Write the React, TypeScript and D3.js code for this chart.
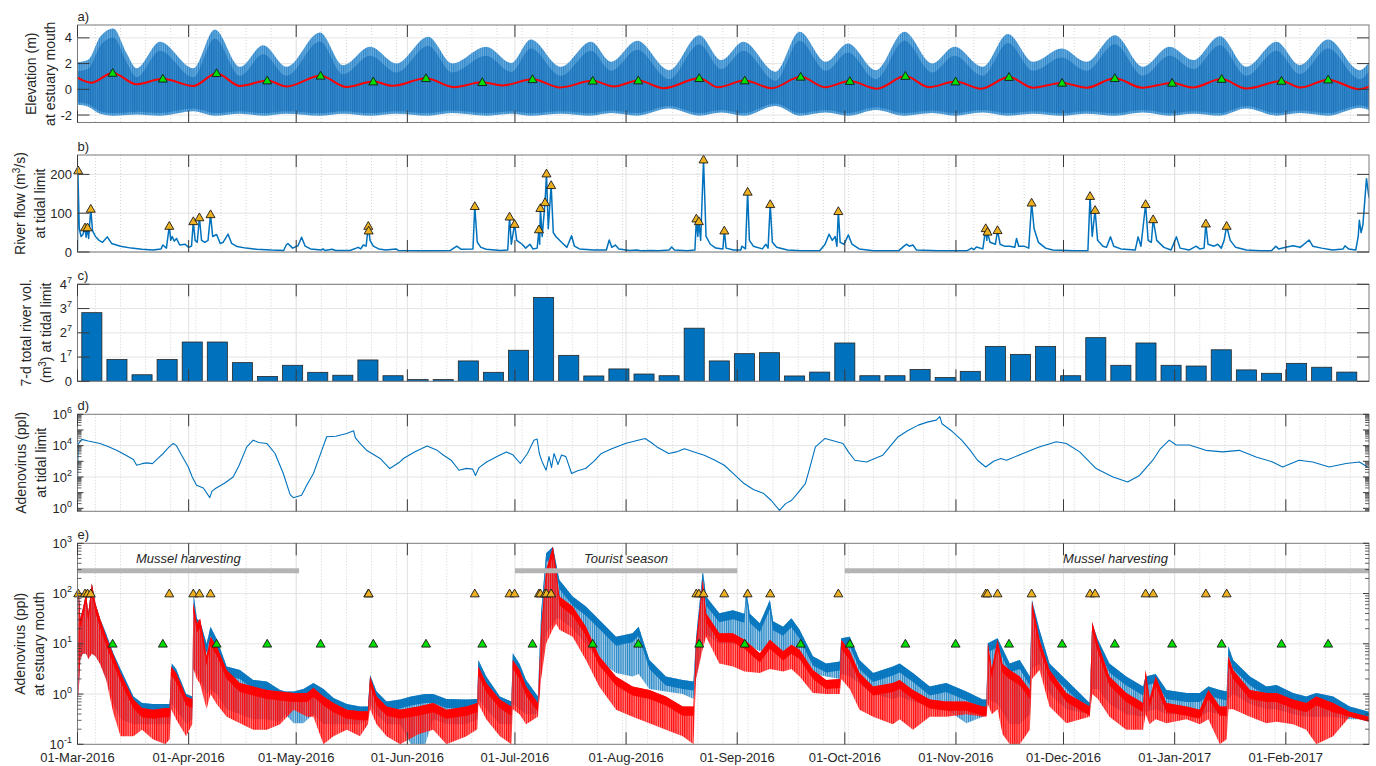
import React from "react";
import * as d3 from "d3";

// ---------------- DATA ----------------
const monthTickLabels = [
  "01-Mar-2016", "01-Apr-2016", "01-May-2016", "01-Jun-2016", "01-Jul-2016", "01-Aug-2016",
  "01-Sep-2016", "01-Oct-2016", "01-Nov-2016", "01-Dec-2016", "01-Jan-2017", "01-Feb-2017",
];

// a) tidal envelope at estuary mouth: [day, high water envelope, low water envelope] (m)
const tideEnvelope: [number, number, number][] = [
  [0, 2.1, -1.2], [3, 2.3, -1.35], [6.3, 4.08, -1.9], [10, 4.73, -2.05], [13.7, 2.8, -2.0], [16.5, 1.63, -1.95],
  [23, 3.69, -2.05], [32.3, 1.63, -1.7], [38.3, 4.65, -2.05], [45.3, 1.75, -1.9], [51.8, 3.43, -2.05], [58.3, 1.75, -1.9],
  [67.6, 4.42, -2.05], [74.1, 1.87, -1.9], [81.6, 3.3, -2.05], [89, 2.0, -1.9], [97.8, 4.08, -2.05], [104.5, 2.01, -1.85],
  [114, 3.31, -2.05], [121, 2.05, -1.9], [126.4, 3.87, -2.05], [134.8, 1.75, -1.9], [143.2, 3.69, -2.05], [148.8, 2.14, -1.85],
  [156.1, 3.77, -2.05], [165, 1.49, -1.5], [173.4, 4.21, -2.05], [179.6, 2.27, -1.8], [185.7, 3.69, -2.05], [194.7, 1.36, -1.3],
  [201.4, 4.47, -2.05], [208.7, 2.14, -1.8], [214.9, 3.56, -2.05], [222.7, 1.49, -1.6], [230.6, 4.47, -2.05], [238.4, 2.01, -1.85],
  [244.6, 3.3, -2.05], [252.4, 1.75, -1.8], [259.5, 4.3, -2.05], [266.5, 2.14, -1.9], [274.5, 3.18, -2.05], [281.4, 2.14, -1.9],
  [289.3, 4.21, -2.05], [297.2, 1.75, -1.8], [304.6, 3.3, -2.05], [311.2, 2.27, -1.9], [318.6, 4.13, -2.05], [326, 1.75, -1.5],
  [334.4, 3.69, -2.05], [340.9, 1.88, -1.85], [348.8, 3.87, -2.05], [357.6, 1.49, -1.45], [360.2, 2.1, -1.6],
];

// a) tidally averaged level (red line): [day, m]
const meanLevel: [number, number][] = [
  [0, 0.9], [3.8, 0.51], [9.8, 1.27], [16.5, 0.39], [23.8, 0.82], [32.3, 0.26], [38.8, 1.25], [45.3, 0.26],
  [52.9, 0.68], [58.3, 0.22], [67.8, 1.05], [75, 0.18], [82.5, 0.6], [88, 0.27], [97.2, 0.86], [105, 0.17],
  [112.9, 0.55], [118.5, 0.3], [126.9, 0.78], [134.6, 0.15], [143.7, 0.66], [149.6, 0.22], [156.4, 0.68], [163.5, 0.09],
  [173.4, 0.86], [178.6, 0.17], [186.1, 0.68], [193.6, 0.09], [201.7, 0.97], [208.5, 0.17], [215.4, 0.64], [223, 0.05],
  [230.9, 1.03], [237.5, 0.17], [244.9, 0.6], [252, 0.05], [259.8, 0.95], [266.5, 0.12], [274.6, 0.5], [281.4, 0.12],
  [289.3, 0.86], [297, 0.12], [305.3, 0.5], [311, 0.14], [319.1, 0.8], [326, 0.06], [335.8, 0.65], [341, 0.14],
  [348.8, 0.75], [357.6, 0.0], [360.2, 0.2],
];

// spring tide markers (green triangles): [day, elevation]
const springTides: [number, number][] = [
  [9.8, 1.27], [23.8, 0.82], [38.8, 1.25], [52.9, 0.68], [67.8, 1.05], [82.5, 0.6], [97.2, 0.86], [112.9, 0.55],
  [126.9, 0.78], [143.7, 0.66], [156.4, 0.68], [173.4, 0.86], [186.1, 0.68], [201.7, 0.97], [215.4, 0.64], [230.9, 1.03],
  [244.9, 0.6], [259.8, 0.95], [274.6, 0.5], [289.3, 0.86], [305.3, 0.5], [319.1, 0.8], [335.8, 0.65], [348.8, 0.75],
];

// b) river flow at tidal limit: [day, m3/s]
const riverFlow: [number, number][] = [
  [0, 5], [0.1, 210], [0.5, 60], [1.0, 40], [1.5, 45], [2.1, 63], [2.4, 38], [2.8, 63], [3.1, 35], [3.7, 111], [4.2, 55],
  [5, 40], [6, 30], [7, 25], [8.3, 39], [9.5, 22], [12, 15], [15, 10], [18, 7], [21, 5], [23.3, 8], [23.8, 18], [24.8, 10],
  [25.6, 67], [26.0, 30], [26.4, 40], [27, 28], [27.6, 35], [28.5, 18], [30, 20], [31, 12], [31.8, 15], [32.3, 79], [32.8, 30],
  [33.4, 25], [34, 89], [34.6, 30], [35.5, 25], [36.4, 30], [37.1, 97], [37.7, 40], [38.8, 45], [39.8, 22], [40.6, 25], [42, 46],
  [43, 22], [44.5, 14], [47, 10], [50, 7], [54, 5], [57.5, 4], [58.2, 18], [58.7, 22], [59.2, 17], [60, 10], [61.5, 16],
  [62.5, 38], [63.5, 15], [65, 8], [68, 5], [68.5, 8], [69, 4], [71, 7], [72, 4], [76, 4], [78.3, 12], [79, 8], [79.7, 18],
  [80.5, 15], [81.1, 67], [81.6, 30], [82.5, 15], [84, 8], [86, 5], [88.8, 8], [89.5, 4], [95, 3], [100, 3], [104, 4],
  [105.8, 15], [107, 7], [110.3, 8], [110.8, 118], [111.5, 25], [112.5, 12], [114, 7], [118, 4], [120, 5], [120.5, 91],
  [121, 20], [121.9, 72], [122.5, 30], [124, 20], [125, 10], [126.2, 20], [127, 8], [128.2, 10], [128.7, 58], [128.9, 20],
  [129.1, 113], [129.6, 40], [130.4, 128], [130.8, 202], [131.3, 60], [132.1, 172], [132.7, 50], [133.4, 40], [135, 25],
  [136.5, 12], [137.8, 42], [138.6, 15], [140, 8], [144, 5], [147.5, 5], [148.3, 31], [149, 12], [150, 18], [151, 8],
  [154, 4], [156, 5], [157, 3], [160, 4], [162, 3], [165, 5], [165.7, 13], [166.5, 5], [170, 3], [172.2, 5], [172.6, 86],
  [173, 40], [173.3, 79], [173.8, 30], [174.6, 238], [175.3, 40], [176.5, 20], [178, 10], [180, 8], [180.4, 55], [180.9, 10],
  [183, 5], [185, 5], [185.3, 15], [186.3, 8], [186.9, 155], [187.4, 30], [188.5, 15], [191, 8], [192, 20], [192.6, 10],
  [193.2, 123], [193.8, 25], [195, 12], [198, 5], [202, 3], [207, 3], [208.5, 20], [209.6, 46], [210.5, 30], [211.3, 40],
  [211.8, 15], [212.2, 105], [212.7, 25], [213.8, 20], [215, 44], [216, 20], [218, 8], [222, 3], [229, 3], [230.5, 15],
  [231.2, 20], [232, 15], [233, 18], [234, 5], [240, 3], [248, 3], [249.4, 10], [250, 6], [250.7, 13], [252.5, 8],
  [253.3, 61], [253.6, 30], [253.8, 52], [254.5, 25], [256, 20], [256.6, 56], [257.3, 20], [258.5, 15], [260, 15],
  [261.4, 12], [261.9, 35], [262.5, 15], [264, 15], [265.3, 10], [266.1, 127], [266.8, 60], [268, 25], [270, 10], [272, 5],
  [278, 3], [281.8, 3], [282.4, 144], [283, 40], [283.8, 108], [284.5, 30], [286, 15], [287, 12], [288.1, 39], [289, 15],
  [291, 8], [295, 5], [295.8, 39], [296.6, 15], [297.9, 123], [298.6, 30], [299.5, 25], [300, 84], [301, 30], [303, 12],
  [305, 5], [306.5, 39], [307.5, 10], [310, 5], [312, 15], [313, 8], [314.2, 10], [314.7, 73], [315.3, 20], [317, 15],
  [318, 20], [319, 10], [319.8, 30], [320.5, 67], [321.5, 30], [323, 12], [326, 5], [330, 3], [333, 3], [334.2, 15],
  [335, 8], [337, 12], [339, 16], [341, 12], [343.5, 31], [344.5, 15], [347, 10], [350, 5], [353, 8], [353.5, 16],
  [354.5, 8], [356.5, 5], [357.2, 40], [357.5, 82], [358, 50], [358.5, 70], [359.5, 189], [360.2, 140],
];

// flow events (orange triangles): [day, peak flow m3/s]
const flowEvents: [number, number][] = [
  [0.2, 210], [2.1, 63], [2.8, 63], [3.7, 111], [25.6, 67], [32.3, 79], [34.0, 89], [37.1, 97], [81.1, 67], [81.2, 55],
  [110.8, 118], [120.5, 91], [121.9, 72], [128.7, 58], [129.1, 113], [130.4, 128], [130.8, 202], [132.1, 172],
  [172.6, 86], [173.3, 79], [174.6, 238], [180.4, 55], [186.9, 155], [193.2, 123], [212.2, 105], [253.3, 61], [253.8, 52],
  [256.6, 56], [266.1, 127], [282.4, 144], [283.8, 108], [297.9, 123], [300.0, 84], [314.7, 73], [320.5, 67],
];

// c) 7-day total river volume (units of 10^7 m3), one value per week from 01-Mar-2016
const weeklyVolume = [
  2.83, 0.9, 0.27, 0.9, 1.62, 1.62, 0.77, 0.2, 0.66, 0.37, 0.25, 0.88, 0.23, 0.07, 0.07, 0.84, 0.37,
  1.28, 3.46, 1.07, 0.22, 0.51, 0.3, 0.23, 2.19, 0.84, 1.14, 1.18, 0.22, 0.38, 1.58, 0.23, 0.23, 0.49,
  0.16, 0.41, 1.44, 1.11, 1.44, 0.23, 1.8, 0.66, 1.58, 0.66, 0.63, 1.3, 0.47, 0.33, 0.74, 0.58, 0.38,
];
const volTickVals = [0, 1, 2, 3, 4];
const volTickLabels = ["0", "1", "2", "3", "4"];

// d) adenovirus at tidal limit: [day, log10(ppl)]
const adenoRiver: [number, number][] = [
  [0, 1.7], [0.2, 4.1], [1.2, 4.4], [3, 4.3], [6.3, 4.14], [8.5, 3.95], [10.9, 3.71], [13, 3.45], [15.6, 3.12], [16.5, 2.75],
  [18, 2.85], [19.3, 2.9], [20.9, 2.85], [22.5, 3.2], [23.9, 3.5], [25.5, 3.9], [26.7, 4.14], [27.6, 4.0], [29, 3.4],
  [30.9, 2.64], [32, 2.0], [33.2, 1.47], [35.1, 1.3], [36.9, 0.68], [37.5, 1.1], [38.7, 1.3], [41, 1.6], [43.4, 2.0],
  [45, 2.7], [47.2, 3.92], [49, 4.35], [50.5, 4.2], [52.8, 4.14], [55.1, 3.5], [57.4, 2.22], [59.3, 0.87], [60.2, 0.68],
  [62.5, 0.83], [64, 1.5], [65.8, 2.22], [67.5, 3.3], [69.5, 4.57], [72, 4.6], [75.1, 4.78], [77, 4.95], [77.5, 4.5],
  [79, 4.1], [80.6, 3.71], [84.4, 3.18], [87.1, 2.54], [89.9, 2.96], [90.9, 3.18], [94, 3.6], [97.5, 3.97], [100.3, 3.7],
  [102, 3.4], [104.2, 3.07], [106.4, 2.43], [108.5, 2.55], [110.2, 2.5], [111, 2.1], [112, 2.6], [114.1, 2.96], [117, 3.3],
  [119.6, 3.6], [121.5, 3.4], [123.5, 2.86], [125.5, 3.5], [127.3, 4.35], [128.2, 4.42], [128.8, 3.5], [129.6, 2.96],
  [130.7, 2.43], [131.5, 3.3], [132.2, 2.6], [132.9, 3.5], [134, 2.8], [135, 3.4], [136.2, 3.3], [137.8, 2.22], [139.5, 2.4],
  [141.7, 2.54], [144, 3.0], [146.1, 3.5], [149, 3.8], [152.8, 4.14], [155.5, 4.3], [158.3, 4.46], [160, 4.2], [161.6, 3.92],
  [164.9, 3.5], [167, 3.6], [169.3, 3.8], [172, 3.6], [174.8, 3.39], [177.5, 3.1], [180.4, 2.75], [183, 2.2], [185.9, 1.58],
  [188.5, 1.2], [191.4, 0.94], [193.5, 0.5], [195.8, -0.13], [197.5, 0.3], [199.1, 0.5], [201, 1.0], [203, 1.58],
  [204.5, 2.8], [205.8, 3.92], [208.5, 4.46], [211, 4.3], [213.5, 4.14], [215, 3.6], [216.8, 3.07], [220.1, 2.96],
  [222.5, 3.2], [224.6, 3.39], [226.8, 4.0], [228.9, 4.57], [231.5, 4.95], [234.5, 5.31], [237, 5.5], [239.5, 5.63],
  [240.5, 5.85], [241.1, 5.4], [244, 4.9], [246.6, 4.35], [249, 3.7], [251, 3.07], [253.3, 2.64], [255.5, 3.0],
  [257.5, 3.18], [259.1, 3.07], [263.7, 3.5], [268, 3.9], [273, 4.25], [275.8, 4.14], [279.5, 3.6], [284.1, 2.54],
  [288.8, 2.0], [292.9, 1.68], [296.2, 2.1], [299.9, 3.07], [302, 3.8], [304.5, 4.35], [306.4, 4.04], [310.1, 4.04],
  [314.7, 3.7], [319.4, 3.6], [324, 3.7], [328.7, 3.28], [333.3, 2.96], [336.1, 2.64], [340.7, 3.07], [344.5, 2.96],
  [349.1, 2.64], [353.8, 2.86], [357.5, 2.96], [359.8, 2.64],
];

// e) adenovirus at estuary mouth, tidal envelope: [day, log10 upper, log10 lower]
const mouthBlue: [number, number, number][] = [
  [0, 0.0, -0.1], [0.3, 2.1, 0.0], [0.8, 1.5, 0.7], [1.5, 1.7, 0.8], [2.4, 2.0, 0.8], [3.0, 1.6, 0.7], [4.0, 2.2, 0.8],
  [5.0, 1.8, 0.75], [6.3, 1.5, 0.6], [8, 1.2, 0.3], [10, 0.81, -0.2], [12, 0.5, -0.5], [15.6, -0.05, -0.6], [18, -0.18, -0.6],
  [21, -0.2, -0.6], [25.7, -0.2, -0.6], [26.3, 0.61, -0.2], [27.5, 0.5, -0.3], [30.3, 0.0, -0.6], [32.0, -0.05, -0.5],
  [32.4, 1.97, 0.5], [33.3, 1.5, 0.4], [34.2, 1.45, 0.3], [36.0, 1.0, 0.0], [37.1, 1.34, 0.1], [38.8, 1.1, 0.0],
  [41.6, 0.55, -0.3], [45.3, 0.48, -0.4], [49, 0.28, -0.5], [52.8, 0.25, -0.5], [56.5, 0.08, -0.55], [58, 0.05, -0.4],
  [60.3, 0.05, -0.58], [63, 0.1, -0.58], [65.8, 0.22, -0.4], [68.6, 0.1, -0.6], [71.4, -0.08, -0.6], [75.1, -0.2, -0.6],
  [78.8, -0.25, -0.6], [81.0, -0.25, -0.5], [81.6, 0.38, -0.2], [83.4, 0.05, -0.4], [86.2, -0.15, -0.6], [90, -0.11, -0.6],
  [93, -0.05, -1.0], [97, 0.0, -1.0], [99.2, 0.0, -0.5], [102.9, -0.1, -0.6], [108.5, -0.11, -0.6], [111.5, -0.1, -0.5],
  [111.8, 0.68, -0.1], [114, 0.35, -0.3], [117.8, -0.05, -0.6], [121, -0.15, -0.6], [121.4, 0.81, -0.2], [123.3, 0.6, -0.3],
  [125.1, 0.28, -0.4], [128.4, -0.05, -0.4], [129.3, 1.61, 0.5], [130.7, 2.8, 1.2], [132.6, 2.93, 1.4], [133.5, 2.6, 1.5],
  [134.4, 2.27, 1.5], [138.1, 1.94, 1.3], [141.8, 1.74, 1.0], [145.5, 1.48, 0.65], [150.2, 1.14, 0.42], [154.8, 1.21, 0.35],
  [156.5, 1.34, 0.4], [159.5, 0.68, 0.1], [164.1, 0.35, 0.05], [168.8, 0.28, 0.0], [171.8, 0.25, -0.1], [172.5, 1.1, 0.3],
  [174.4, 2.47, 1.0], [175.3, 1.94, 1.2], [179, 1.61, 1.0], [182.8, 1.67, 1.0], [186, 1.6, 0.95], [186.5, 2.07, 1.0],
  [187.5, 1.6, 0.95], [190.3, 1.41, 0.85], [193.1, 1.87, 0.9], [194, 1.45, 0.85], [196.8, 1.34, 0.85], [199.1, 1.51, 0.8],
  [201.4, 1.28, 0.7], [205.1, 0.75, 0.4], [208.8, 0.61, 0.35], [212.6, 0.65, 0.3], [213, 1.11, 0.4], [215.4, 1.14, 0.35],
  [218.1, 0.68, 0.2], [221.9, 0.42, 0.0], [227.4, 0.55, -0.1], [229.3, 0.61, -0.05], [233, 0.42, -0.15], [237.7, 0.15, -0.25],
  [242.3, 0.22, -0.3], [247.9, 0.05, -0.58], [252.5, -0.11, -0.45], [253.5, -0.11, -0.4], [253.9, 1.01, -0.1],
  [256.6, 1.11, -0.2], [260, 0.61, -0.6], [262.8, 0.68, -0.6], [265.6, 0.35, -0.4], [266.2, 1.87, 0.5], [268.3, 1.28, 0.6],
  [271.1, 0.61, 0.0], [275.8, 0.28, -0.3], [282.3, -0.18, -0.4], [283, 1.41, 0.1], [284.6, 1.08, 0.1], [287.8, 0.61, -0.2],
  [292.5, 0.35, -0.4], [297.2, 0.15, -0.45], [297.9, 0.35, -0.35], [300.7, 0.4, -0.3], [303.7, 0.08, -0.4],
  [309.3, 0.02, -0.4], [313, 0.02, -0.45], [315.4, 0.15, -0.35], [318.6, 0.08, -0.4], [320.5, 0.05, -0.45],
  [321, 0.95, -0.1], [322.3, 0.68, 0.0], [327, 0.35, -0.2], [331.6, 0.15, -0.3], [334.4, 0.18, -0.3], [339, 0.02, -0.4],
  [342.7, -0.05, -0.45], [345.5, 0.02, -0.45], [350.2, -0.05, -0.45], [354.8, -0.25, -0.5], [360.2, -0.35, -0.5],
];

const mouthRed: [number, number, number][] = [
  [0, 0.0, -0.1], [0.3, 2.1, 0.0], [0.8, 1.5, 0.7], [1.5, 1.7, 0.8], [2.4, 2.0, 0.8], [3.0, 1.6, 0.7], [4.0, 2.2, 0.8],
  [5.0, 1.8, 0.75], [6.3, 1.5, 0.6], [8, 1.14, 0.28], [10, 0.78, -0.38], [12, 0.42, -0.84], [15.6, -0.11, -0.84],
  [18, -0.28, -0.71], [21, -0.31, -0.9], [24.5, -0.28, -1.0], [25.7, -0.28, -0.9], [26.1, 0.55, -0.3], [27.5, 0.42, -0.5],
  [30.3, -0.05, -0.84], [32.0, -0.1, -0.6], [32.3, 1.81, 0.5], [33.3, 1.41, 0.3], [34.2, 1.5, 0.2], [36.0, 0.75, -0.3],
  [37.1, 1.14, 0.0], [38.8, 0.95, -0.2], [41.6, 0.48, -0.45], [45.3, 0.22, -0.58], [49, 0.15, -0.71], [52.8, 0.08, -0.71],
  [56.5, 0.05, -0.6], [60.3, 0.02, -0.31], [64, 0.02, -0.45], [65.8, 0.12, -0.45], [68.6, -0.05, -1.0], [71.4, -0.18, -0.84],
  [75.1, -0.31, -0.71], [78.8, -0.34, -0.84], [81.0, -0.34, -0.6], [81.6, 0.35, -0.3], [83.4, -0.05, -0.6],
  [86.2, -0.25, -0.84], [90, -0.31, -1.0], [95, -0.25, -0.8], [99.2, -0.18, -0.71], [102.9, -0.31, -1.0],
  [108.5, -0.25, -0.84], [111.5, -0.18, -0.7], [111.8, 0.55, -0.2], [114, 0.22, -0.5], [117.8, -0.11, -0.84],
  [121, -0.25, -1.0], [121.4, 0.68, -0.3], [123.3, 0.48, -0.4], [125.1, 0.15, -0.6], [128.4, -0.18, -0.45],
  [129.3, 1.28, 0.3], [130.7, 2.47, 1.0], [132.6, 2.93, 1.3], [133.5, 2.47, 1.4], [134.4, 1.94, 1.28], [138.1, 1.74, 1.14],
  [141.8, 1.34, 0.68], [145.5, 0.75, 0.15], [150.2, 0.35, -0.31], [154.8, 0.15, -0.45], [159.5, 0.08, -0.58],
  [164.1, -0.05, -0.71], [168.8, -0.25, -0.84], [171.8, -0.25, -1.0], [172.5, 1.0, 0.3], [174.4, 2.27, 0.9],
  [175.3, 1.61, 1.14], [179, 1.21, 0.61], [182.8, 1.21, 0.55], [186, 1.08, 0.45], [190.3, 0.81, 0.42], [193.1, 1.08, 0.5],
  [196.8, 0.85, 0.45], [199.1, 0.98, 0.5], [201.4, 0.88, 0.35], [205.1, 0.48, 0.02], [208.8, 0.28, 0.0], [212.6, 0.3, 0.0],
  [213, 1.08, 0.3], [215.4, 0.85, 0.1], [218.1, 0.42, -0.31], [221.9, 0.15, -0.45], [227.4, 0.22, -0.6], [229.3, 0.28, -0.5],
  [233, 0.08, -0.71], [237.7, -0.11, -0.45], [242.3, -0.15, -0.45], [247.9, -0.15, -0.4], [252.5, -0.25, -0.45],
  [253.5, -0.25, -0.45], [253.9, 1.01, -0.2], [255, 0.5, -0.4], [256.6, 1.08, -0.3], [258, 0.6, -0.8], [260, 0.48, -1.0],
  [262.8, 0.35, -1.0], [265.6, 0.08, -0.71], [266.2, 1.84, 0.3], [268.3, 1.08, 0.48], [271.1, 0.48, -0.25],
  [275.8, 0.02, -0.58], [282.3, -0.25, -0.45], [283, 1.44, 0.0], [284.6, 1.01, -0.1], [287.8, 0.35, -0.45],
  [292.5, 0.02, -0.71], [297.2, -0.18, -0.71], [297.9, 0.48, -0.4], [299, -0.1, -0.6], [300.7, 0.35, -0.5],
  [303.7, -0.18, -0.58], [309.3, -0.25, -0.5], [313, -0.31, -0.6], [315.4, 0.08, -0.5], [318.6, -0.25, -1.0],
  [320.5, -0.25, -0.9], [321, 0.75, -0.3], [322.3, 0.48, -0.3], [327, 0.08, -0.45], [331.6, 0.02, -0.58],
  [334.4, 0.02, -0.55], [339, -0.11, -0.6], [342.7, -0.18, -0.71], [345.5, -0.05, -1.0], [350.2, -0.18, -0.84],
  [354.8, -0.35, -0.45], [360.2, -0.45, -0.55],
];

// e) season annotations: [start day, end day]
const seasonSpans: [number, number][] = [[0, 61.8], [122, 184], [214, 365]];
const seasonLabels = ["Mussel harvesting", "Tourist season", "Mussel harvesting"];

// ---------------- LAYOUT ----------------
const FONT = "'Liberation Sans', Arial, Helvetica, sans-serif";
const TXT = "#262626";
const BLUE = "#0072BD";
const L = 77.5;
const R = 1369;
const X_END = 360.2;
const BASE = Date.UTC(2016, 2, 1);
const toDate = (d: number) => new Date(BASE + d * 864e5);

const PA = { top: 25, bottom: 122.5 };
const PB = { top: 155, bottom: 252 };
const PC = { top: 284.3, bottom: 381.3 };
const PD = { top: 414.3, bottom: 511.3 };
const PE = { top: 543.3, bottom: 744.3 };

const x = d3.scaleUtc().domain([toDate(0), toDate(X_END)]).range([L, R]);
const xd = (d: number) => x(toDate(d));
const months = d3.utcMonth.range(toDate(0), toDate(X_END + 0.01));
const weeks = d3.utcSunday.range(toDate(0.01), toDate(X_END));

const ya = d3.scaleLinear().domain([-2.58, 5]).range([PA.bottom, PA.top]);
const yb = d3.scaleLinear().domain([0, 250]).range([PB.bottom, PB.top]);
const yc = d3.scaleLinear().domain([0, 4]).range([PC.bottom, PC.top]);
const yd = d3.scaleLog().domain([Math.pow(10, -0.19), 1e6]).range([PD.bottom, PD.top]);
const ye = d3.scaleLog().domain([0.1, 1000]).range([PE.bottom, PE.top]);

type P = { top: number; bottom: number };

function grid(p: P, yVals: number[]) {
  return (
    <g>
      {weeks.map((w, i) => (
        <line key={"w" + i} x1={x(w)} x2={x(w)} y1={p.top} y2={p.bottom} stroke="#c8c8c8" strokeWidth={0.8} strokeDasharray="1,2" />
      ))}
      {months.map((m, i) => (
        <line key={"m" + i} x1={x(m)} x2={x(m)} y1={p.top} y2={p.bottom} stroke="#e2e2e2" strokeWidth={1} />
      ))}
      {yVals.map((v, i) => (
        <line key={"h" + i} x1={L} x2={R} y1={v} y2={v} stroke="#e4e4e4" strokeWidth={1} />
      ))}
    </g>
  );
}

function frame(p: P, majorY: number[], minorY: number[], majLen: number) {
  const tc = "#3a3a3a";
  return (
    <g>
      <rect x={L} y={p.top} width={R - L} height={p.bottom - p.top} fill="none" stroke="#7a7a7a" strokeWidth={1} />
      {majorY.map((v, i) => (
        <g key={"t" + i}>
          <line x1={L} x2={L + majLen} y1={v} y2={v} stroke={tc} />
          <line x1={R} x2={R - majLen} y1={v} y2={v} stroke={tc} />
        </g>
      ))}
      {minorY.map((v, i) => (
        <g key={"n" + i}>
          <line x1={L} x2={L + 4} y1={v} y2={v} stroke={tc} strokeWidth={0.8} />
          <line x1={R} x2={R - 4} y1={v} y2={v} stroke={tc} strokeWidth={0.8} />
        </g>
      ))}
      {months.map((m, i) => (
        <g key={"x" + i}>
          <line x1={x(m)} x2={x(m)} y1={p.top} y2={p.top + 12} stroke={tc} />
          <line x1={x(m)} x2={x(m)} y1={p.bottom} y2={p.bottom - 12} stroke={tc} />
        </g>
      ))}
    </g>
  );
}

function yLabel(p: P, x1: number, x2: number, line1: React.ReactNode, line2: React.ReactNode) {
  const cy = (p.top + p.bottom) / 2;
  return (
    <g fontSize={14} fill={TXT} textAnchor="middle">
      <text transform={`translate(${x1},${cy}) rotate(-90)`} dy="0.35em">{line1}</text>
      <text transform={`translate(${x2},${cy}) rotate(-90)`} dy="0.35em">{line2}</text>
    </g>
  );
}

function logMinor(scale: d3.ScaleLogarithmic<number, number>, k0: number, k1: number) {
  const out: number[] = [];
  const [lo, hi] = scale.domain();
  for (let k = k0; k <= k1; k++) for (let m = 2; m <= 9; m++) {
    const v = m * Math.pow(10, k);
    if (v > lo && v < hi) out.push(scale(v));
  }
  return out;
}

function tri(cx: number, cy: number, fill: string, key: string) {
  return (
    <path key={key} d={`M${cx},${cy - 4.5}L${cx + 4.5},${cy + 3.3}L${cx - 4.5},${cy + 3.3}Z`} fill={fill} stroke="#1a1a1a" strokeWidth={0.9} />
  );
}

export default function App() {
  const tideArea = d3.area<[number, number, number]>()
    .x((d) => xd(d[0])).y0((d) => ya(d[2])).y1((d) => ya(d[1])).curve(d3.curveMonotoneX);
  const tideInner = d3.area<[number, number, number]>()
    .x((d) => xd(d[0])).y0((d) => ya(d[2] + 0.2)).y1((d) => ya(Math.max(d[2] + 0.2, d[1] - 0.7))).curve(d3.curveMonotoneX);
  const meanLine = d3.line<[number, number]>().x((d) => xd(d[0])).y((d) => ya(d[1])).curve(d3.curveMonotoneX);
  const flowLine = d3.line<[number, number]>().x((d) => xd(d[0])).y((d) => yb(d[1]));
  const riverLine = d3.line<[number, number]>().x((d) => xd(d[0])).y((d) => yd(Math.pow(10, d[1])));
  const bandFull = d3.area<[number, number, number]>()
    .x((d) => xd(d[0])).y0((d) => ye(Math.pow(10, d[2]))).y1((d) => ye(Math.pow(10, d[1])));
  const bandCore = d3.area<[number, number, number]>()
    .x((d) => xd(d[0])).y0((d) => ye(Math.pow(10, Math.max(d[2], d[1] - 0.18)))).y1((d) => ye(Math.pow(10, d[1])));

  const aTicks = [4, 2, 0, -2];
  const bTicks = [200, 100, 0];
  const dTicks = [0, 2, 4, 6];
  const eTicks = [-1, 0, 1, 2, 3];
  const dDecades = [0, 1, 2, 3, 4, 5, 6];

  const panelLetter = (p: P, s: string) => (
    <text x={L} y={p.top - 4} fontSize={13} fill={TXT}>{s}</text>
  );

  const barW = xd(5.6) - xd(0);

  return (
    <svg width={1376} height={766} style={{ display: "block", position: "absolute", left: 0, top: 0 }} fontFamily={FONT}>
      <defs>
        {[PA, PB, PC, PD, PE].map((p, i) => (
          <clipPath id={"clip" + i} key={i}>
            <rect x={L} y={p.top} width={R - L} height={p.bottom - p.top} />
          </clipPath>
        ))}
        <pattern id="tideStripe" width="2.2" height="10" patternUnits="userSpaceOnUse">
          <rect width="2.2" height="10" fill="#6aaee0" />
          <rect width="1.1" height="10" fill="#2f86c8" />
        </pattern>
        <pattern id="tideStripe2" width="2.2" height="10" patternUnits="userSpaceOnUse">
          <rect width="2.2" height="10" fill="#3a8cce" />
          <rect width="1.1" height="10" fill="#1a72b8" />
        </pattern>
        <pattern id="blueStripe" width="2.2" height="10" patternUnits="userSpaceOnUse">
          <rect width="1.2" height="10" fill={BLUE} opacity="0.85" />
          <rect x="1.2" width="1.0" height="10" fill={BLUE} opacity="0.35" />
        </pattern>
        <pattern id="redStripe" width="2.2" height="10" patternUnits="userSpaceOnUse">
          <rect width="1.3" height="10" fill="#ff0a0a" opacity="1" />
          <rect x="1.3" width="0.9" height="10" fill="#ff3030" opacity="0.6" />
        </pattern>
      </defs>
      <rect x={0} y={0} width={1376} height={766} fill="#fff" />

      {/* ---------- a) ---------- */}
      {grid(PA, aTicks.map(ya))}
      <g clipPath="url(#clip0)">
        <path d={tideArea(tideEnvelope) || ""} fill="url(#tideStripe)" />
        <path d={tideInner(tideEnvelope) || ""} fill="url(#tideStripe2)" />
        <path d={meanLine(meanLevel) || ""} fill="none" stroke="#ff0000" strokeWidth={2} />
        {springTides.map((s, i) => tri(xd(s[0]), ya(s[1]), "#00dd00", "ga" + i))}
      </g>
      {frame(PA, aTicks.map(ya), [], 12)}
      <g fontSize={13} fill={TXT} textAnchor="end">
        {aTicks.map((t, i) => (
          <text key={i} x={72} y={ya(t)} dy="0.35em">{t < 0 ? "-" + Math.abs(t) : String(t)}</text>
        ))}
      </g>
      {panelLetter(PA, "a)")}
      {yLabel(PA, 31, 50, "Elevation (m)", "at estuary mouth")}

      {/* ---------- b) ---------- */}
      {grid(PB, bTicks.map(yb))}
      <g clipPath="url(#clip1)">
        <path d={flowLine(riverFlow) || ""} fill="none" stroke={BLUE} strokeWidth={1.5} strokeLinejoin="round" />
      </g>
      {flowEvents.map((e, i) => tri(xd(e[0]), yb(e[1]), "#EDB120", "ob" + i))}
      {frame(PB, bTicks.map(yb), [], 12)}
      <g fontSize={13} fill={TXT} textAnchor="end">
        {bTicks.map((t, i) => (
          <text key={i} x={72} y={yb(t)} dy="0.35em">{t}</text>
        ))}
      </g>
      {panelLetter(PB, "b)")}
      {yLabel(PB, 20, 40,
        <>River flow (m<tspan dy={-5} fontSize={10}>3</tspan><tspan dy={5}>/s)</tspan></>,
        "at tidal limit")}

      {/* ---------- c) ---------- */}
      {grid(PC, volTickVals.map(yc))}
      <g clipPath="url(#clip2)">
        {weeklyVolume.map((v, i) => {
          const cx = xd(4 + 7 * i);
          return (
            <rect key={i} x={cx - barW / 2} y={yc(v)} width={barW} height={yc(0) - yc(v)} fill={BLUE} stroke="#262626" strokeWidth={0.8} />
          );
        })}
      </g>
      {frame(PC, volTickVals.map(yc), [], 12)}
      <g fontSize={13} fill={TXT} textAnchor="end">
        {volTickVals.map((t, i) => (
          <text key={i} x={72} y={yc(t)} dy="0.35em">
            {volTickLabels[i]}
            {t > 0 ? <tspan dy={-6} fontSize={9}>7</tspan> : null}
          </text>
        ))}
      </g>
      {panelLetter(PC, "c)")}
      {yLabel(PC, 26, 46, "7-d total river vol.",
        <>(m<tspan dy={-5} fontSize={10}>3</tspan><tspan dy={5}>) at tidal limit</tspan></>)}

      {/* ---------- d) ---------- */}
      {grid(PD, dTicks.filter((t) => t > 0 && t < 6).map((t) => yd(Math.pow(10, t))))}
      <g clipPath="url(#clip3)">
        <path d={riverLine(adenoRiver) || ""} fill="none" stroke={BLUE} strokeWidth={1.1} strokeLinejoin="round" />
      </g>
      {frame(PD, dDecades.map((t) => yd(Math.pow(10, t))), logMinor(yd, -1, 5), 6)}
      <g fontSize={13} fill={TXT} textAnchor="end">
        {dTicks.map((t, i) => (
          <text key={i} x={72} y={yd(Math.pow(10, t))} dy="0.35em">
            10<tspan dy={-6} fontSize={9}>{t}</tspan>
          </text>
        ))}
      </g>
      {panelLetter(PD, "d)")}
      {yLabel(PD, 21, 41, "Adenovirus (ppl)", "at tidal limit")}

      {/* ---------- e) ---------- */}
      {grid(PE, eTicks.filter((t) => t > -1 && t < 3).map((t) => ye(Math.pow(10, t))))}
      <g clipPath="url(#clip4)">
        <path d={bandFull(mouthBlue) || ""} fill="url(#blueStripe)" />
        <path d={bandCore(mouthBlue) || ""} fill={BLUE} opacity={0.9} />
        <path d={bandFull(mouthRed) || ""} fill="url(#redStripe)" />
        <path d={bandCore(mouthRed) || ""} fill="#ff0000" opacity={0.95} />
        {seasonSpans.map((s, i) => (
          <line key={"s" + i} x1={xd(s[0])} x2={xd(s[1])} y1={ye(285)} y2={ye(285)} stroke="#b4b4b4" strokeWidth={5} />
        ))}
      </g>
      {seasonSpans.map((s, i) => (
        <text key={"sl" + i} x={(xd(s[0]) + xd(s[1])) / 2} y={ye(285) - 8} fontSize={13} fontStyle="italic" fill={TXT} textAnchor="middle">
          {seasonLabels[i]}
        </text>
      ))}
      {flowEvents.map((e, i) => tri(xd(e[0]), ye(100), "#EDB120", "oe" + i))}
      {springTides.map((s, i) => tri(xd(s[0]), ye(10), "#00dd00", "ge" + i))}
      {frame(PE, eTicks.map((t) => ye(Math.pow(10, t))), logMinor(ye, -1, 2), 6)}
      <g fontSize={13} fill={TXT} textAnchor="end">
        {eTicks.map((t, i) => (
          <text key={i} x={72} y={ye(Math.pow(10, t))} dy="0.35em">
            10<tspan dy={-6} fontSize={9}>{t < 0 ? "-" + Math.abs(t) : String(t)}</tspan>
          </text>
        ))}
      </g>
      <g fontSize={13} fill={TXT} textAnchor="middle">
        {months.map((m, i) => (
          <text key={i} x={x(m)} y={762}>{monthTickLabels[i]}</text>
        ))}
      </g>
      {panelLetter(PE, "e)")}
      {yLabel(PE, 20, 39, "Adenovirus (ppl)", "at estuary mouth")}
    </svg>
  );
}
